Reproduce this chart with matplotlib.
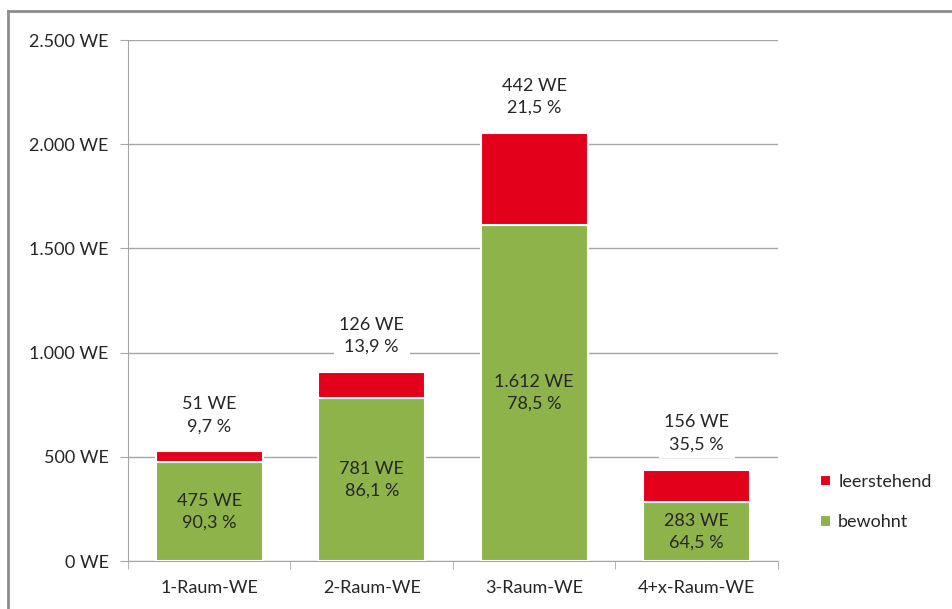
import matplotlib
matplotlib.use("Agg")
import matplotlib.pyplot as plt
from matplotlib.lines import Line2D
from matplotlib.ticker import FuncFormatter

categories = ["1-Raum-WE", "2-Raum-WE", "3-Raum-WE", "4+x-Raum-WE"]
bewohnt = [475, 781, 1612, 283]
leerstehend = [51, 126, 442, 156]
pct_bewohnt = ["90,3 %", "86,1 %", "78,5 %", "64,5 %"]
pct_leer = ["9,7 %", "13,9 %", "21,5 %", "35,5 %"]
yticks = [0, 500, 1000, 1500, 2000, 2500]

green = "#8db34a"
red = "#e2001a"
grid = "#a6a6a6"
txt = "#262626"

plt.rcParams["font.family"] = ["Lato", "DejaVu Sans"]

fig = plt.figure(figsize=(9.53, 6.09), dpi=100)
ax = fig.add_axes([0.1343, 0.0788, 0.682, 0.8555])

x = list(range(len(categories)))
ax.bar(x, bewohnt, width=0.66, color=green, edgecolor="white", linewidth=1.5,
       label="bewohnt", zorder=3)
ax.bar(x, leerstehend, width=0.66, bottom=bewohnt, color=red, edgecolor="white",
       linewidth=1.5, label="leerstehend", zorder=3)

def fmt(v):
    return f"{int(v):,}".replace(",", ".")

for i in x:
    ax.text(i, bewohnt[i] / 2, f"{fmt(bewohnt[i])} WE\n{pct_bewohnt[i]}",
            ha="center", va="center", fontsize=13, color=txt, linespacing=1.45,
            zorder=4)
    ax.annotate(f"{fmt(leerstehend[i])} WE\n{pct_leer[i]}",
                (i, bewohnt[i] + leerstehend[i]), xytext=(0, 26),
                textcoords="offset points", ha="center", va="center",
                fontsize=13, color=txt, linespacing=1.45, zorder=4,
                bbox=dict(boxstyle="square,pad=0.3", fc="white", ec="none"))

ax.set_xlim(-0.5, 3.5)
ax.set_ylim(0, 2500)
ax.set_yticks(yticks)
ax.yaxis.set_major_formatter(FuncFormatter(lambda v, p: f"{fmt(v)} WE"))
ax.set_xticks(x)
ax.set_xticklabels(categories)
ax.set_xticks([-0.5, 0.5, 1.5, 2.5, 3.5], minor=True)
ax.tick_params(axis="x", which="major", length=0, pad=14, labelsize=13,
               colors=txt)
ax.tick_params(axis="x", which="minor", length=6, color=grid)
ax.tick_params(axis="y", length=6, color=grid, labelsize=13, colors=txt, pad=8)
ax.grid(axis="y", color=grid, linewidth=1, zorder=0)
for s in ["top", "right"]:
    ax.spines[s].set_visible(False)
for s in ["left", "bottom"]:
    ax.spines[s].set_color(grid)

handles, labels = ax.get_legend_handles_labels()
ax.legend(handles[::-1], labels[::-1], loc="center left",
          bbox_to_anchor=(1.04, 0.113), frameon=False, fontsize=13,
          handlelength=0.6, handleheight=0.6, handletextpad=0.4,
          labelspacing=1.35, labelcolor=txt)

fig.add_artist(Line2D([0.0085, 1.0], [0.9825, 0.9825], color="#8c8c8c",
                      linewidth=2, transform=fig.transFigure))
fig.add_artist(Line2D([0.0085, 0.0085], [0.0, 0.9825], color="#8c8c8c",
                      linewidth=2, transform=fig.transFigure))

fig.savefig("out.png", dpi=100)
